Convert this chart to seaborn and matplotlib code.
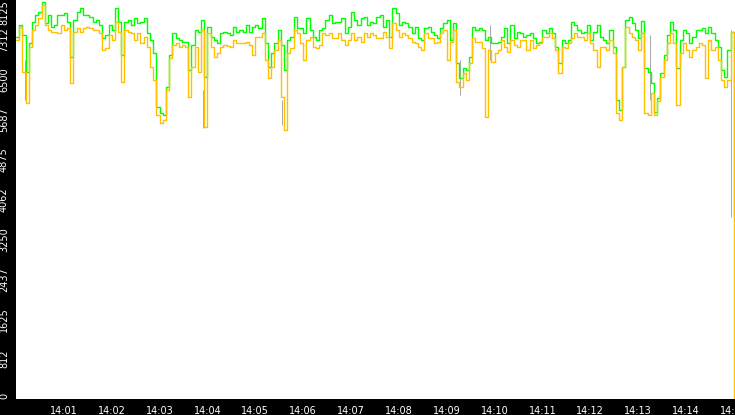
import matplotlib
matplotlib.use('Agg')
import matplotlib.pyplot as plt
import matplotlib.dates as mdates
import seaborn as sns
import pandas as pd

# upper (green) series, one value every 4 s from 14:00 to 14:15
green = [
    7370, 7620, 7410, 6660, 7250, 7680, 7820, 7880, 8080, 7660, 7820, 7580, 7620, 7820, 7820, 7860,
    7680, 6960, 7720, 7880, 7960, 7820, 7820, 7780, 7680, 7720, 7620, 7350, 7410, 7620, 7510, 7960, 7680,
    7000, 7680, 7720, 7620, 7760, 7660, 7680, 7760, 7450, 7310, 7050, 5950, 5820, 5780, 6350, 7000,
    7450, 7350, 7310, 7270, 7270, 6700, 7210, 7510, 7470, 7720, 6560, 7580, 7370, 7310, 7250, 7450,
    7470, 7450, 7410, 7580, 7470, 7510, 7470, 7620, 7470, 7580, 7620, 7560, 7760, 7250, 6760, 7050,
    7250, 7510, 7210, 6700, 7310, 7370, 7780, 7560, 7560, 7450, 7760, 7510, 7370, 7310, 7510, 7560,
    7720, 7820, 7660, 7680, 7680, 7760, 7450, 7580, 7880, 7720, 7620, 7760, 7780, 7620, 7680, 7660,
    7780, 7820, 7580, 7720, 7370, 7960, 7860, 7620, 7680, 7660, 7580, 7450, 7580, 7350, 7310, 7560,
    7580, 7470, 7410, 7350, 7560, 7660, 7720, 7310, 7660, 6840, 6540, 6740, 6700, 6960, 7580, 7510,
    7560, 7510, 7310, 7370, 7250, 7250, 7270, 7370, 7560, 7250, 7620, 7350, 7470, 7450, 7370, 7410,
    7450, 7350, 7250, 7270, 7510, 7450, 7560, 7450, 7170, 6840, 7310, 7250, 7310, 7680, 7620, 7510,
    7450, 7470, 7620, 7310, 7470, 7620, 7370, 7310, 7250, 7510, 7170, 6090, 5890, 6760, 7720, 7780,
    7660, 7510, 7350, 7700, 6740, 6660, 6440, 5840, 6130, 6640, 7000, 7410, 7680, 7510, 6740, 7310,
    7510, 7450, 7250, 7370, 7510, 7510, 7560, 7450, 7580, 7450, 7310, 7170, 6700, 6560, 7110, 7470,
    3710,
]

# lower (orange) series, same timestamps
orange = [
    7310, 7580, 6660, 6030, 7170, 7510, 7620, 7760, 8020, 7620, 7510, 7470, 7470, 7450, 7620, 7510,
    7560, 6440, 7470, 7560, 7470, 7560, 7580, 7560, 7510, 7510, 7450, 7110, 7150, 7410, 7310, 7680, 7470,
    6460, 7510, 7470, 7450, 7310, 7450, 7250, 7370, 7170, 6760, 6500, 5780, 5620, 5680, 6290, 6940,
    7210, 7250, 7170, 7210, 7170, 6150, 6760, 7170, 6660, 7510, 5540, 7450, 7170, 6960, 7050, 7170,
    7210, 7190, 7170, 7310, 7250, 7250, 7250, 7270, 7210, 7000, 7370, 7370, 7450, 6900, 6540, 6760,
    7110, 7310, 6150, 5480, 7050, 7150, 7510, 7450, 7250, 6900, 7310, 7370, 7170, 7150, 7210, 7450,
    7410, 7450, 7350, 7350, 7450, 7310, 7210, 7310, 7450, 7310, 7370, 7270, 7450, 7370, 7450, 7410,
    7350, 7350, 7470, 7370, 7150, 7660, 7510, 7370, 7450, 7410, 7350, 7270, 7250, 7170, 7110, 7450,
    7350, 7350, 7250, 7270, 7450, 7510, 6900, 7270, 7510, 6460, 6350, 6640, 6500, 6840, 7350, 7270,
    7270, 7150, 5740, 7110, 6860, 7050, 7110, 7310, 7170, 7070, 7310, 7210, 7170, 7310, 7310, 7110,
    7310, 7150, 7210, 7250, 7370, 7370, 7450, 7350, 7110, 6640, 7170, 7150, 7250, 7350, 7450, 7370,
    7370, 7310, 7450, 7250, 7110, 6760, 7170, 7170, 7110, 7310, 7050, 5820, 5680, 6760, 7580, 7450,
    7370, 7310, 7110, 7450, 5820, 5780, 6230, 5780, 6070, 6560, 6900, 7250, 7450, 7250, 5990, 7050,
    7250, 7110, 6960, 7110, 7170, 7250, 7210, 6540, 7310, 7110, 7170, 6900, 6500, 6350, 6500, 7470,
    0,
]

# thin grey spikes of the third series
spike_times = ['14:00:11', '14:03:54', '14:05:34', '14:09:17', '14:09:54', '14:13:15', '14:14:57']
spike_low = [6090, 5520, 5580, 6190, 6900, 6090, 3710]
spike_high = [6900, 6290, 6090, 6900, 7620, 7410, 7510]

y_ticks = [0, 812, 1625, 2437, 3250, 4062, 4875, 5687, 6500, 7312, 8125]
x_ticks = ['14:01', '14:02', '14:03', '14:04', '14:05', '14:06', '14:07', '14:08',
           '14:09', '14:10', '14:11', '14:12', '14:13', '14:14', '14:15']

day = '2024-01-01 '
times = pd.date_range(day + '14:00:00', day + '14:15:00', periods=len(green))
df = pd.DataFrame({'time': times, 'green': green, 'orange': orange})

sns.set_style('white')
plt.rcParams['font.family'] = ['DejaVu Sans']

fig = plt.figure(figsize=(7.35, 4.15), dpi=100, facecolor='black')
ax = fig.add_axes([16 / 735, 16 / 415, 719 / 735, 399 / 415])
ax.set_facecolor('white')

ax.vlines(pd.to_datetime([day + t for t in spike_times]), spike_low, spike_high,
          color='#a8a8a8', lw=0.7, zorder=1)
sns.lineplot(data=df, x='time', y='green', estimator=None, color='#00ff00', lw=1.0,
             drawstyle='steps-post', ax=ax, zorder=2)
sns.lineplot(data=df, x='time', y='orange', estimator=None, color='#ffc000', lw=1.0,
             drawstyle='steps-post', ax=ax, zorder=3)

ax.set_xlim(pd.Timestamp(day + '14:00:00'), pd.Timestamp(day + '14:15:01.5'))
ax.set_ylim(0, 8125)
ax.set_xticks(pd.to_datetime([day + t for t in x_ticks]))
ax.xaxis.set_major_formatter(mdates.DateFormatter('%H:%M'))
ax.set_yticks(y_ticks)
ax.set_yticklabels([str(v) for v in y_ticks])
ax.set_xlabel('')
ax.set_ylabel('')

ax.tick_params(axis='both', colors='white', direction='out', length=4, width=1,
               labelsize=7, pad=1)
for lab in ax.get_yticklabels():
    lab.set_rotation(90)
    lab.set_va('center')
ax.get_yticklabels()[-1].set_va('top')
ax.get_yticklabels()[0].set_va('bottom')

for s in ax.spines.values():
    s.set_visible(False)

fig.savefig('out.png', dpi=100, facecolor='black')
